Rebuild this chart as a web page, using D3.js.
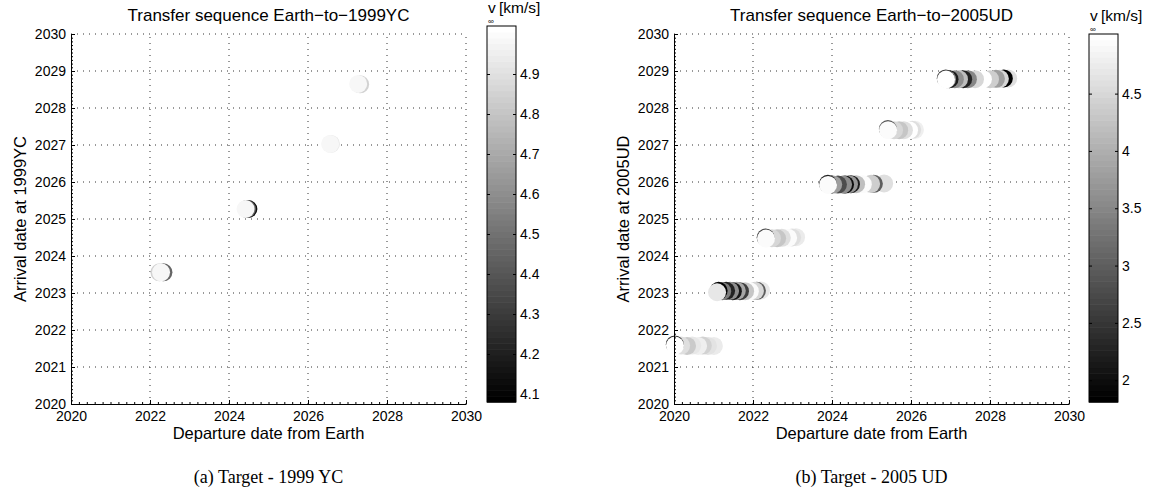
<!DOCTYPE html>
<html>
<head>
<meta charset="utf-8">
<script src="https://cdn.jsdelivr.net/npm/d3@7"></script>
<style>
  html, body { margin: 0; padding: 0; background: #fff; }
  svg { display: block; }
  .tick text { font-family: "Liberation Sans", Arial, sans-serif; font-size: 14px; fill: #000; }
</style>
</head>
<body>
<svg id="fig" width="1149" height="496"></svg>
<script>
// ---- axis ticks -------------------------------------------------------
const departureTicks = [2020, 2022, 2024, 2026, 2028, 2030];
const arrivalTicks = [2020, 2021, 2022, 2023, 2024, 2025, 2026, 2027, 2028, 2029, 2030];
const vinfTicks1999YC = [4.1, 4.2, 4.3, 4.4, 4.5, 4.6, 4.7, 4.8, 4.9];
const vinfTicks2005UD = [2, 2.5, 3, 3.5, 4, 4.5];
const vinfRange1999YC = [4.08, 5.02];
const vinfRange2005UD = [1.81, 5.02];

// ---- transfer solutions: [departure year, arrival year, v_inf km/s] ----
// listed in plotting order (later entries are drawn on top)

// Earth -> 1999 YC
const yc1999_w1 = [[2022.24, 2023.56, 4.85], [2022.34, 2023.56, 4.45], [2022.28, 2023.56, 4.98]];
const yc1999_w2 = [[2024.49, 2025.27, 4.12], [2024.455, 2025.27, 4.45], [2024.42, 2025.27, 4.98]];
const yc1999_w3 = [[2026.58, 2027.03, 4.93], [2026.56, 2027.03, 4.98]];
const yc1999_w4 = [[2027.32, 2028.64, 4.85], [2027.27, 2028.65, 4.99]];

// Earth -> 2005 UD
const ud2005_w1 = [
  [2021.01, 2021.57, 4.75], [2020.86, 2021.57, 4.65], [2020.73, 2021.58, 4.45],
  [2020.61, 2021.57, 4.80], [2020.46, 2021.58, 4.70], [2020.33, 2021.57, 4.35],
  [2020.18, 2021.58, 4.60], [2020.02, 2021.61, 2.40], [2020.025, 2021.58, 4.98]
];
const ud2005_w2 = [
  [2022.20, 2023.07, 4.70], [2022.10, 2023.06, 3.00], [2022.05, 2023.06, 4.50],
  [2021.92, 2023.05, 4.95], [2021.80, 2023.05, 4.30], [2021.67, 2023.05, 2.60],
  [2021.59, 2023.06, 3.90], [2021.49, 2023.05, 2.10], [2021.42, 2023.06, 3.60],
  [2021.32, 2023.06, 2.30], [2021.22, 2023.05, 3.40], [2021.13, 2023.06, 1.90],
  [2021.09, 2023.02, 4.70]
];
const ud2005_w3 = [
  [2023.09, 2024.51, 4.75], [2022.99, 2024.50, 4.60], [2022.89, 2024.49, 4.95],
  [2022.73, 2024.49, 4.60], [2022.61, 2024.48, 4.30], [2022.48, 2024.48, 4.50],
  [2022.32, 2024.50, 2.60], [2022.33, 2024.47, 4.95]
];
const ud2005_w4 = [
  [2025.32, 2025.96, 4.60], [2025.06, 2025.95, 3.00], [2024.99, 2025.95, 4.40],
  [2024.78, 2025.94, 4.95], [2024.61, 2025.94, 4.20], [2024.48, 2025.94, 2.20],
  [2024.43, 2025.94, 3.70], [2024.33, 2025.93, 2.00], [2024.28, 2025.93, 3.60],
  [2024.15, 2025.93, 2.80], [2024.03, 2025.93, 3.80], [2023.895, 2025.95, 2.30],
  [2023.90, 2025.92, 4.95]
];
const ud2005_w5 = [
  [2026.10, 2027.41, 4.80], [2026.03, 2027.41, 4.60], [2025.95, 2027.40, 4.97],
  [2025.82, 2027.40, 4.60], [2025.70, 2027.40, 4.30], [2025.57, 2027.40, 4.50],
  [2025.415, 2027.43, 2.90], [2025.42, 2027.40, 4.95]
];
const ud2005_w6 = [
  [2028.46, 2028.80, 4.60], [2028.35, 2028.80, 1.90], [2028.25, 2028.79, 4.50],
  [2028.15, 2028.79, 3.80], [2028.00, 2028.78, 4.40], [2027.82, 2028.78, 4.98],
  [2027.62, 2028.78, 4.50], [2027.44, 2028.78, 3.50], [2027.32, 2028.78, 2.30],
  [2027.215, 2028.78, 4.20], [2027.11, 2028.78, 3.60], [2026.975, 2028.78, 2.20],
  [2026.91, 2028.78, 3.80], [2026.88, 2028.80, 2.60], [2026.886, 2028.77, 4.98]
];

const SANS = '"Liberation Sans", Arial, Helvetica, sans-serif';
const SERIF = '"Liberation Serif", "Times New Roman", serif';
const svg = d3.select("#fig");

// soft edge for the overlapping scatter markers
svg.append("defs").append("filter").attr("id", "soft")
  .attr("x", "-20%").attr("y", "-20%").attr("width", "140%").attr("height", "140%")
  .append("feGaussianBlur").attr("stdDeviation", 0.6);

// MATLAB-style 64 level gray colormap
function grayLevel(i) { const g = Math.round(i / 63 * 255); return d3.rgb(g, g, g).toString(); }
function grayMap(domain) {
  const t = d3.scaleLinear().domain(domain).range([0, 1]).clamp(true);
  return v => grayLevel(Math.min(63, Math.floor(t(v) * 64)));
}

function drawPanel(cfg) {
  const x = d3.scaleLinear().domain([2020, 2030]).range([cfg.left, cfg.left + 395]);
  const y = d3.scaleLinear().domain([2020, 2030]).range([404, 34]);
  const color = grayMap(cfg.vRange);
  const g = svg.append("g");

  // dotted grid
  const grid = g.append("g").attr("stroke", "#333").attr("stroke-width", 1)
    .attr("stroke-dasharray", "1 5").attr("fill", "none");
  grid.selectAll("line.v").data(departureTicks.slice(1)).join("line")
    .attr("x1", d => x(d)).attr("x2", d => x(d)).attr("y1", y(2020)).attr("y2", y(2030));
  grid.selectAll("line.h").data(arrivalTicks.slice(1)).join("line")
    .attr("y1", d => y(d)).attr("y2", d => y(d)).attr("x1", x(2020)).attr("x2", x(2030));

  // markers
  const marks = g.append("g").attr("filter", "url(#soft)");
  cfg.windows.forEach(win => {
    marks.append("g").selectAll("circle").data(win).join("circle")
      .attr("cx", d => x(d[0])).attr("cy", d => y(d[1])).attr("r", 9)
      .attr("fill", d => color(d[2]));
  });

  // minor ticks
  const minorX = d3.axisBottom(x).tickValues(d3.range(2020, 2030.001, 0.2)).tickSize(-2).tickSizeOuter(0).tickFormat("");
  const minorY = d3.axisLeft(y).tickValues(d3.range(2020, 2030.001, 0.1)).tickSize(-2).tickSizeOuter(0).tickFormat("");
  g.append("g").attr("transform", `translate(0,${y(2020)})`).call(minorX).select(".domain").remove();
  g.append("g").attr("transform", `translate(${x(2020)},0)`).call(minorY).select(".domain").remove();

  // major axes (ticks inside)
  const ax = g.append("g").attr("transform", `translate(0,${y(2020)})`)
    .call(d3.axisBottom(x).tickValues(departureTicks).tickSize(-4).tickSizeOuter(0).tickPadding(7).tickFormat(d3.format("d")));
  const ay = g.append("g").attr("transform", `translate(${x(2020)},0)`)
    .call(d3.axisLeft(y).tickValues(arrivalTicks).tickSize(-4).tickSizeOuter(0).tickPadding(5).tickFormat(d3.format("d")));
  [ax, ay].forEach(a => a.attr("font-family", null).attr("font-size", null));
  g.selectAll(".tick line, .domain").attr("stroke", "#000");

  // titles and labels
  const cx = x(2025);
  g.append("text").attr("x", cx).attr("y", 21).attr("text-anchor", "middle")
    .attr("font-family", SANS).attr("font-size", 17).text(cfg.title);
  g.append("text").attr("x", cx).attr("y", 439).attr("text-anchor", "middle")
    .attr("font-family", SANS).attr("font-size", 16.5).text("Departure date from Earth");
  g.append("text").attr("transform", `translate(${cfg.left - 45},${y(2025)}) rotate(-90)`)
    .attr("text-anchor", "middle").attr("font-family", SANS).attr("font-size", 16.5).text(cfg.ylabel);
  g.append("text").attr("x", cx).attr("y", 483).attr("text-anchor", "middle")
    .attr("font-family", SERIF).attr("font-size", 18).text(cfg.caption);

  // colorbar
  const cb = cfg.cb;
  const cy = d3.scaleLinear().domain(cfg.vRange).range([cb.bottom, cb.top]);
  const levels = d3.range(64);
  const step = (cfg.vRange[1] - cfg.vRange[0]) / 64;
  g.append("g").selectAll("rect").data(levels).join("rect")
    .attr("x", cb.x).attr("width", 29)
    .attr("y", i => cy(cfg.vRange[0] + (i + 1) * step))
    .attr("height", i => cy(cfg.vRange[0] + i * step) - cy(cfg.vRange[0] + (i + 1) * step) + 0.6)
    .attr("fill", i => grayLevel(i));
  g.append("rect").attr("x", cb.x).attr("y", cb.top).attr("width", 29).attr("height", cb.bottom - cb.top)
    .attr("fill", "none").attr("stroke", "#000");
  const cbAxis = g.append("g").attr("transform", `translate(${cb.x + 29},0)`)
    .call(d3.axisRight(cy).tickValues(cfg.vTicks).tickSize(-3).tickSizeOuter(0).tickPadding(4).tickFormat(d3.format("")));
  cbAxis.attr("font-family", null).attr("font-size", null);
  cbAxis.select(".domain").remove();
  const cbLeft = g.append("g").attr("transform", `translate(${cb.x},0)`)
    .call(d3.axisLeft(cy).tickValues(cfg.vTicks).tickSize(-3).tickSizeOuter(0).tickFormat(""));
  cbLeft.select(".domain").remove();
  g.selectAll(".tick line").attr("stroke", "#000");

  // v_inf [km/s] label with subscript infinity sitting just above the bar
  const sub = cb.top - 1.8;
  const base = sub - 11;
  const lab = g.append("text").attr("x", cb.x + 1).attr("y", base)
    .attr("font-family", SANS).attr("font-size", 15.5);
  lab.append("tspan").text("v");
  lab.append("tspan").attr("x", cb.x + 12).text("[km/s]");
  g.append("text").attr("x", cb.x + 1).attr("y", sub).attr("font-family", SANS)
    .attr("font-size", 8).text("\u221E");
}

drawPanel({
  left: 71,
  title: "Transfer sequence Earth\u2212to\u22121999YC",
  ylabel: "Arrival date at 1999YC",
  caption: "(a) Target - 1999 YC",
  windows: [yc1999_w1, yc1999_w2, yc1999_w3, yc1999_w4],
  vRange: vinfRange1999YC,
  vTicks: vinfTicks1999YC,
  cb: { x: 487, top: 26, bottom: 402 }
});

drawPanel({
  left: 674,
  title: "Transfer sequence Earth\u2212to\u22122005UD",
  ylabel: "Arrival date at 2005UD",
  caption: "(b) Target - 2005 UD",
  windows: [ud2005_w1, ud2005_w2, ud2005_w3, ud2005_w4, ud2005_w5, ud2005_w6],
  vRange: vinfRange2005UD,
  vTicks: vinfTicks2005UD,
  cb: { x: 1089, top: 34, bottom: 402 }
});
</script>
</body>
</html>
